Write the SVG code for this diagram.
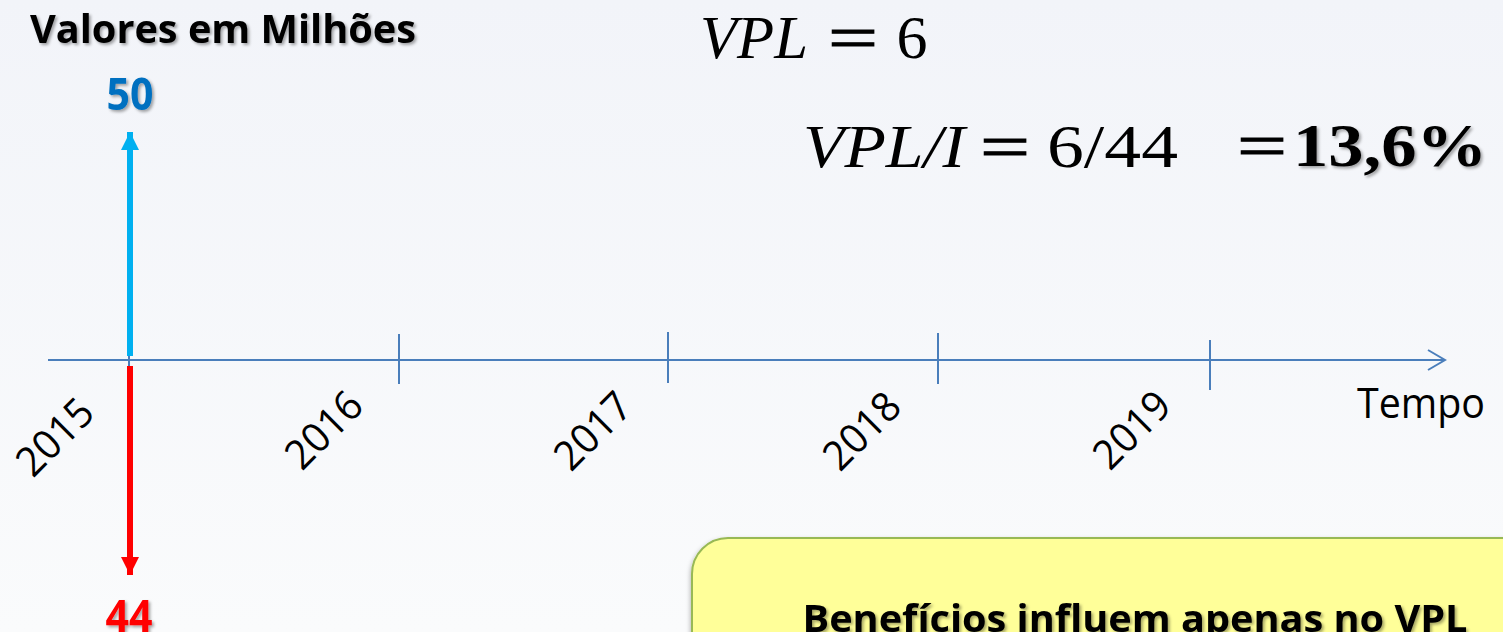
<svg xmlns="http://www.w3.org/2000/svg" width="1503" height="632" viewBox="0 0 1503 632">
<defs>
<linearGradient id="bg" x1="0" y1="0" x2="0" y2="1">
<stop offset="0" stop-color="#F2F4F9"/>
<stop offset="1" stop-color="#FAFBFC"/>
</linearGradient>
<filter id="sh" x="-20%" y="-20%" width="140%" height="150%">
<feDropShadow dx="2" dy="2" stdDeviation="1.5" flood-color="#000" flood-opacity="0.35"/>
</filter>
<filter id="boxsh" x="-5%" y="-5%" width="110%" height="120%">
<feDropShadow dx="-1" dy="2" stdDeviation="2" flood-color="#000" flood-opacity="0.25"/>
</filter>
<marker id="blueHead" viewBox="0 0 10 10" refX="10" refY="5" markerWidth="3" markerHeight="3" markerUnits="strokeWidth" orient="auto">
<path d="M0,0 L10,5 L0,10 Z" fill="#00B0F0"/>
</marker>
<marker id="redHead" viewBox="0 0 10 10" refX="10" refY="5" markerWidth="3" markerHeight="3" markerUnits="strokeWidth" orient="auto">
<path d="M0,0 L10,5 L0,10 Z" fill="#FF0000"/>
</marker>
</defs>
<style>
.axis{stroke:#4A7EBB;stroke-width:2;fill:none}
.year{font-family:"Open Sans","Liberation Sans",sans-serif;font-size:41px;fill:#000;text-anchor:middle}
.lbl{font-family:"Open Sans","Liberation Sans",sans-serif;font-weight:bold}
.math{font-family:"Liberation Serif","DejaVu Serif",serif;font-size:62px;fill:#000}
.it{font-style:italic}
.eq{font-family:"Liberation Serif","DejaVu Serif",serif;font-size:64px;fill:#000;text-anchor:middle;stroke:#000;stroke-width:1}
</style>
<rect x="0" y="0" width="1503" height="632" fill="url(#bg)"/>

<g id="title">
<text class="lbl" x="30" y="43" font-size="39" textLength="386" lengthAdjust="spacingAndGlyphs" filter="url(#sh)">Valores em Milhões</text>
</g>

<g id="formula-vpl">
<text class="math it" x="700" y="58" textLength="108" lengthAdjust="spacingAndGlyphs">VPL</text>
<text class="eq" x="853" y="59" textLength="50" lengthAdjust="spacingAndGlyphs">=</text>
<text class="math" x="912" y="58" text-anchor="middle">6</text>
</g>

<g id="formula-ratio">
<text class="math it" x="803" y="167" textLength="162" lengthAdjust="spacingAndGlyphs">VPL/I</text>
<text class="eq" x="1005" y="168" textLength="50" lengthAdjust="spacingAndGlyphs">=</text>
<text class="math" x="1047" y="167" textLength="131" lengthAdjust="spacingAndGlyphs">6/44</text>
<text class="eq" x="1262" y="167" textLength="50" lengthAdjust="spacingAndGlyphs" stroke-width="2">=</text>
<text class="math" x="1293" y="166" font-weight="bold" textLength="194" lengthAdjust="spacingAndGlyphs" filter="url(#sh)">13,6%</text>
</g>

<g id="timeline">
<line class="axis" x1="48" y1="360" x2="1444" y2="360"/>
<polyline class="axis" points="1428,350 1445,360 1428,370"/>
<line class="axis" x1="129" y1="335" x2="129" y2="385"/>
<line class="axis" x1="399" y1="334" x2="399" y2="384"/>
<line class="axis" x1="668" y1="332" x2="668" y2="383"/>
<line class="axis" x1="938" y1="333" x2="938" y2="384"/>
<line class="axis" x1="1210" y1="340" x2="1210" y2="390"/>
</g>

<g id="years">
<text class="year" transform="translate(55,437) rotate(-45)" y="14" textLength="90" lengthAdjust="spacingAndGlyphs">2015</text>
<text class="year" transform="translate(324,430) rotate(-45)" y="14" textLength="90" lengthAdjust="spacingAndGlyphs">2016</text>
<text class="year" transform="translate(593,431) rotate(-45)" y="14" textLength="90" lengthAdjust="spacingAndGlyphs">2017</text>
<text class="year" transform="translate(862,431) rotate(-45)" y="14" textLength="90" lengthAdjust="spacingAndGlyphs">2018</text>
<text class="year" transform="translate(1132,430) rotate(-45)" y="14" textLength="90" lengthAdjust="spacingAndGlyphs">2019</text>
</g>

<g id="tempo">
<text x="1357" y="418" font-family="Open Sans, Liberation Sans, sans-serif" font-size="42" fill="#000" textLength="128" lengthAdjust="spacingAndGlyphs">Tempo</text>
</g>

<g id="connectors">
<line x1="130" y1="356" x2="130" y2="132" stroke="#00B0F0" stroke-width="6" marker-end="url(#blueHead)"/>
<line x1="130" y1="366" x2="130" y2="575" stroke="#FF0000" stroke-width="6" marker-end="url(#redHead)"/>
</g>

<g id="benefit-value">
<text class="lbl" x="130" y="110" font-size="44" fill="#0070C0" text-anchor="middle" textLength="47" lengthAdjust="spacingAndGlyphs" filter="url(#sh)">50</text>
</g>

<g id="investment-value">
<text class="lbl" x="129" y="632" font-size="44" fill="#FF0000" text-anchor="middle" textLength="47" lengthAdjust="spacingAndGlyphs" filter="url(#sh)">44</text>
</g>

<g id="note-box">
<rect x="692" y="538" width="900" height="200" rx="36" ry="36" fill="#FFFF99" stroke="#98B954" stroke-width="2" filter="url(#boxsh)"/>
<text class="lbl" x="1135" y="632" font-size="38" fill="#000" text-anchor="middle" textLength="665" lengthAdjust="spacingAndGlyphs" filter="url(#sh)">Benefícios influem apenas no VPL</text>
</g>
</svg>
